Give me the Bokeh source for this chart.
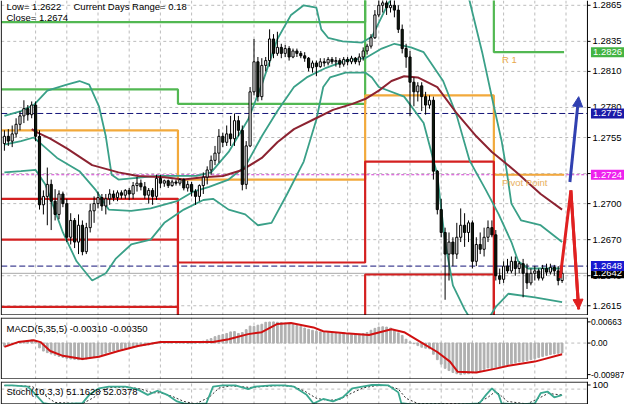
from bokeh.plotting import figure
from bokeh.models import Range1d, FixedTicker, Label, Arrow, NormalHead, ColumnDataSource
from bokeh.layouts import column
from bokeh.embed import file_html
from bokeh.resources import INLINE

# ------------------------------------------------------------------ data
bars = list(range(144))
opens = [1.2750, 1.2756, 1.2752, 1.2758, 1.2766, 1.2773, 1.2779, 1.2774, 1.2782, 1.2756,
         1.2699, 1.2706, 1.2716, 1.2702, 1.2691, 1.2708, 1.2700, 1.2672, 1.2686, 1.2668,
         1.2682, 1.2660, 1.2680, 1.2694, 1.2700, 1.2705, 1.2698, 1.2704, 1.2708, 1.2705,
         1.2709, 1.2707, 1.2711, 1.2708, 1.2715, 1.2717, 1.2714, 1.2707, 1.2711, 1.2706,
         1.2721, 1.2717, 1.2719, 1.2715, 1.2718, 1.2717, 1.2720, 1.2713, 1.2716, 1.2710,
         1.2706, 1.2715, 1.2722, 1.2728, 1.2736, 1.2742, 1.2756, 1.2751, 1.2758, 1.2754,
         1.2769, 1.2761, 1.2716, 1.2748, 1.2793, 1.2818, 1.2789, 1.2815, 1.2819, 1.2837,
         1.2825, 1.2830, 1.2825, 1.2829, 1.2822, 1.2827, 1.2825, 1.2823, 1.2821, 1.2813,
         1.2817, 1.2814, 1.2818, 1.2817, 1.2820, 1.2818, 1.2819, 1.2816, 1.2820, 1.2818,
         1.2821, 1.2818, 1.2822, 1.2827, 1.2831, 1.2838, 1.2857, 1.2865, 1.2867, 1.2863,
         1.2865, 1.2861, 1.2845, 1.2829, 1.2822, 1.2801, 1.2793, 1.2798, 1.2789, 1.2782,
         1.2786, 1.2727, 1.2695, 1.2676, 1.2658, 1.2668, 1.2658, 1.2672, 1.2682, 1.2676,
         1.2684, 1.2652, 1.2666, 1.2662, 1.2672, 1.2680, 1.2674, 1.2640, 1.2637, 1.2648,
         1.2644, 1.2652, 1.2646, 1.2650, 1.2642, 1.2634, 1.2642, 1.2644, 1.2638, 1.2646,
         1.2643, 1.2647, 1.2644, 1.2636]
highs = [1.2761, 1.2762, 1.2765, 1.2771, 1.2777, 1.2786, 1.2782, 1.2785, 1.2785, 1.2761,
         1.2711, 1.2730, 1.2720, 1.2712, 1.2711, 1.2710, 1.2704, 1.2692, 1.2688, 1.2691,
         1.2686, 1.2684, 1.2700, 1.2706, 1.2710, 1.2708, 1.2708, 1.2712, 1.2711, 1.2711,
         1.2711, 1.2712, 1.2713, 1.2718, 1.2722, 1.2720, 1.2718, 1.2713, 1.2713, 1.2724,
         1.2724, 1.2720, 1.2720, 1.2720, 1.2720, 1.2721, 1.2721, 1.2719, 1.2718, 1.2712,
         1.2716, 1.2726, 1.2731, 1.2740, 1.2748, 1.2762, 1.2759, 1.2765, 1.2773, 1.2775,
         1.2773, 1.2765, 1.2752, 1.2797, 1.2837, 1.2822, 1.2821, 1.2822, 1.2845, 1.2841,
         1.2843, 1.2833, 1.2832, 1.2831, 1.2829, 1.2829, 1.2827, 1.2826, 1.2822, 1.2819,
         1.2819, 1.2821, 1.2821, 1.2822, 1.2822, 1.2822, 1.2821, 1.2822, 1.2822, 1.2823,
         1.2822, 1.2825, 1.2830, 1.2833, 1.2841, 1.2861, 1.2873, 1.2874, 1.2876, 1.2872,
         1.2870, 1.2865, 1.2849, 1.2833, 1.2827, 1.2805, 1.2801, 1.2801, 1.2793, 1.2790,
         1.2789, 1.2728, 1.2704, 1.2680, 1.2676, 1.2672, 1.2684, 1.2696, 1.2692, 1.2686,
         1.2686, 1.2672, 1.2676, 1.2680, 1.2686, 1.2686, 1.2678, 1.2646, 1.2652, 1.2654,
         1.2656, 1.2656, 1.2652, 1.2654, 1.2650, 1.2646, 1.2648, 1.2646, 1.2649, 1.2650,
         1.2650, 1.2649, 1.2648, 1.2648]
lows = [1.2744, 1.2748, 1.2747, 1.2755, 1.2761, 1.2767, 1.2769, 1.2771, 1.2752, 1.2695,
        1.2691, 1.2682, 1.2678, 1.2686, 1.2687, 1.2697, 1.2668, 1.2666, 1.2663, 1.2658,
        1.2657, 1.2658, 1.2676, 1.2684, 1.2696, 1.2694, 1.2691, 1.2699, 1.2702, 1.2702,
        1.2704, 1.2704, 1.2703, 1.2704, 1.2710, 1.2711, 1.2704, 1.2700, 1.2699, 1.2703,
        1.2713, 1.2714, 1.2713, 1.2714, 1.2715, 1.2715, 1.2711, 1.2710, 1.2706, 1.2699,
        1.2702, 1.2708, 1.2716, 1.2724, 1.2732, 1.2734, 1.2747, 1.2748, 1.2748, 1.2748,
        1.2756, 1.2711, 1.2712, 1.2747, 1.2790, 1.2785, 1.2786, 1.2810, 1.2814, 1.2821,
        1.2823, 1.2821, 1.2822, 1.2819, 1.2821, 1.2822, 1.2821, 1.2818, 1.2810, 1.2809,
        1.2806, 1.2813, 1.2814, 1.2815, 1.2816, 1.2814, 1.2813, 1.2814, 1.2815, 1.2816,
        1.2816, 1.2815, 1.2819, 1.2824, 1.2829, 1.2837, 1.2855, 1.2859, 1.2857, 1.2859,
        1.2855, 1.2842, 1.2825, 1.2813, 1.2773, 1.2781, 1.2785, 1.2777, 1.2774, 1.2779,
        1.2720, 1.2691, 1.2672, 1.2620, 1.2636, 1.2648, 1.2654, 1.2668, 1.2664, 1.2668,
        1.2646, 1.2648, 1.2658, 1.2656, 1.2668, 1.2672, 1.2636, 1.2633, 1.2634, 1.2642,
        1.2642, 1.2640, 1.2642, 1.2622, 1.2629, 1.2632, 1.2636, 1.2636, 1.2636, 1.2640,
        1.2641, 1.2640, 1.2632, 1.2634]
closes = [1.2756, 1.2752, 1.2758, 1.2766, 1.2773, 1.2779, 1.2774, 1.2782, 1.2756, 1.2699,
          1.2706, 1.2716, 1.2702, 1.2691, 1.2708, 1.2700, 1.2672, 1.2686, 1.2668, 1.2682,
          1.2660, 1.2680, 1.2694, 1.2700, 1.2705, 1.2698, 1.2704, 1.2708, 1.2705, 1.2709,
          1.2707, 1.2711, 1.2708, 1.2715, 1.2717, 1.2714, 1.2707, 1.2711, 1.2706, 1.2721,
          1.2717, 1.2719, 1.2715, 1.2718, 1.2717, 1.2720, 1.2713, 1.2716, 1.2710, 1.2706,
          1.2715, 1.2722, 1.2728, 1.2736, 1.2742, 1.2756, 1.2751, 1.2758, 1.2754, 1.2769,
          1.2761, 1.2716, 1.2748, 1.2793, 1.2818, 1.2789, 1.2815, 1.2819, 1.2837, 1.2825,
          1.2830, 1.2825, 1.2829, 1.2822, 1.2827, 1.2825, 1.2823, 1.2821, 1.2813, 1.2817,
          1.2814, 1.2818, 1.2817, 1.2820, 1.2818, 1.2819, 1.2816, 1.2820, 1.2818, 1.2821,
          1.2818, 1.2822, 1.2827, 1.2831, 1.2838, 1.2857, 1.2865, 1.2867, 1.2863, 1.2865,
          1.2861, 1.2845, 1.2829, 1.2822, 1.2801, 1.2793, 1.2798, 1.2789, 1.2782, 1.2786,
          1.2727, 1.2695, 1.2676, 1.2658, 1.2668, 1.2658, 1.2672, 1.2682, 1.2676, 1.2684,
          1.2652, 1.2666, 1.2662, 1.2672, 1.2680, 1.2674, 1.2640, 1.2637, 1.2648, 1.2644,
          1.2652, 1.2646, 1.2650, 1.2642, 1.2634, 1.2642, 1.2644, 1.2638, 1.2646, 1.2643,
          1.2647, 1.2644, 1.2636, 1.2642]

# Bollinger bands (upper / middle / lower) read at bar positions
ub_x = [0, 4.25, 7.5, 11, 16, 19.25, 21.75, 24.25, 26, 27.5, 29.25, 39.25, 49.25, 53, 57.5,
        62.5, 66, 70, 73.5, 76.75, 80, 81.25, 83, 86.75, 91.75, 94.25, 98.5, 109, 119.25,
        122.5, 125.5, 127.5, 128.75, 130, 132.5, 137.5, 143]
ub_y = [1.2773, 1.2777, 1.2782, 1.2794, 1.2799, 1.2802, 1.2799, 1.2781, 1.2756, 1.2724,
        1.2720, 1.2723, 1.2723, 1.2726, 1.2743, 1.2770, 1.2799, 1.2837, 1.2857, 1.2865,
        1.2863, 1.2845, 1.2838, 1.2835, 1.2834, 1.2839, 1.2867, 1.2917, 1.2869, 1.2826,
        1.2781, 1.2752, 1.2728, 1.2700, 1.2686, 1.2682, 1.2668]
mb_x = [0, 4.25, 7.5, 10, 13.5, 19.25, 23.5, 26.75, 32.5, 37.5, 44.25, 48.5, 52.5, 57.5,
        61.75, 66, 70, 74.25, 77.5, 82.5, 87.5, 92.5, 96.75, 100, 104.25, 107.5, 112.5, 116,
        119.25, 123.5, 126.75, 130, 131.75, 134.25, 143]
mb_y = [1.2749, 1.2752, 1.2755, 1.2748, 1.2738, 1.2727, 1.2711, 1.2695, 1.2694, 1.2696,
        1.2702, 1.2710, 1.2714, 1.2720, 1.2731, 1.2756, 1.2777, 1.2797, 1.2805, 1.2813,
        1.2819, 1.2821, 1.2829, 1.2833, 1.2830, 1.2826, 1.2802, 1.2773, 1.2736, 1.2711,
        1.2691, 1.2668, 1.2652, 1.2646, 1.2646]
lb_x = [0, 4.25, 8, 10.5, 15, 18.5, 22.5, 26, 28.5, 32.5, 37.5, 41, 46, 51, 53.5, 57.5,
        61.75, 65, 68.5, 72.5, 76.75, 80, 81.75, 83.5, 87.5, 92.5, 94.25, 96, 102.5, 107.5,
        111, 113, 115, 118, 121.75, 126, 129.25, 136, 143]
lb_y = [1.2726, 1.2727, 1.2728, 1.2716, 1.2676, 1.2652, 1.2636, 1.2642, 1.2654, 1.2666,
        1.2670, 1.2684, 1.2695, 1.2703, 1.2704, 1.2695, 1.2691, 1.2682, 1.2684, 1.2708,
        1.2735, 1.2770, 1.2797, 1.2805, 1.2809, 1.2809, 1.2805, 1.2797, 1.2789, 1.2767,
        1.2724, 1.2668, 1.2632, 1.2612, 1.2592, 1.2614, 1.2625, 1.2622, 1.2618]

# moving average (brown)
ma_x = [7, 8.5, 11.75, 16, 22.5, 29.25, 34.25, 41, 46, 51, 56, 61, 66, 70, 74.25, 79.25,
        84.25, 89.25, 92.5, 96, 99.25, 102.5, 106, 111, 116, 121, 125, 131, 137.5, 143]
ma_y = [1.2762, 1.2759, 1.2754, 1.2746, 1.2732, 1.2726, 1.2723, 1.2722, 1.2720, 1.2722,
        1.2723, 1.2728, 1.2738, 1.2751, 1.2762, 1.2770, 1.2778, 1.2783, 1.2787, 1.2794,
        1.2802, 1.2806, 1.2805, 1.2797, 1.2775, 1.2756, 1.2743, 1.2727, 1.2708, 1.2695]

# daily pivot levels, one value per day segment
day_edges = [-0.75, 44.5, 92.5, 125.5, 143.5]
r2 = [1.2851, 1.2851, 1.2905, 1.2880]
r1 = [1.2795, 1.2783, 1.2890, 1.2826]
pp = [1.2761, 1.2720, 1.2790, 1.2724]
s1 = [1.2704, 1.2651, 1.2735, 1.2590]
s2 = [1.2670, 1.2585, 1.2641, 1.2540]
s3 = [1.2614, 1.2520, 1.2560, 1.2480]

# horizontal price lines and right-hand price boxes
line_1775 = 1.2775
line_1648 = 1.2648
line_pivot = 1.2724
bid = 1.2642
box_prices = [1.2826, 1.2775, 1.2724, 1.2642, 1.2648]
box_colors = ["#43b443", "#1a1aa8", "#ee22ee", "#000000", "#1a1ad0"]
price_ticks = [1.2615, 1.2640, 1.2670, 1.2700, 1.2725, 1.2755, 1.2780, 1.2810, 1.2835, 1.2865]
grid_bars = [8, 16, 24, 32, 40, 48, 56, 64, 72, 80, 88, 96, 104, 112, 120, 128, 136, 144]

# hand-drawn forecast arrows
blue_fx = [145.0, 147.25]
blue_fy = [1.2718, 1.2789]
red_fx = [142.5, 145.25, 147.25]
red_fy = [1.2638, 1.2711, 1.2612]

# MACD(5,35,5): main histogram per bar, signal line
macd_main = [-0.0010, -0.0008, -0.0005, -0.0002, 0.0002, 0.0005, 0.0008, 0.0010, 0.0005,
             -0.0015, -0.0025, -0.0030, -0.0034, -0.0038, -0.0042, -0.0045, -0.0048, -0.0050,
             -0.0051, -0.0052, -0.0052, -0.0050, -0.0047, -0.0044, -0.0040,
             -0.0036, -0.0032, -0.0028, -0.0025, -0.0022, -0.0019, -0.0016, -0.0014, -0.0011,
             -0.0009, -0.0008, -0.0007, -0.0006, -0.0003, -0.0001,
             0.0000, 0.0001, 0.0001, 0.0002, 0.0002, 0.0001, 0.0001, -0.0001, -0.0002, 0.0000,
             0.0003, 0.0006, 0.0010, 0.0014,
             0.0020, 0.0024, 0.0027, 0.0030, 0.0035, 0.0036, 0.0030, 0.0033, 0.0042, 0.0053,
             0.0052, 0.0056, 0.0059, 0.0065, 0.0066, 0.00663,
             0.0065, 0.0064, 0.0062, 0.0060, 0.0058, 0.0055, 0.0052, 0.0047, 0.0043, 0.0040,
             0.0037, 0.0035, 0.0033, 0.0032, 0.0031, 0.0030, 0.0029, 0.0029, 0.0028, 0.0027,
             0.0027, 0.0028, 0.0030, 0.0033, 0.0040, 0.0046, 0.0050, 0.0051, 0.0050, 0.0047,
             0.0041, 0.0032, 0.0024, 0.0012, 0.0004, -0.0002, -0.0008, -0.0013, -0.0016, -0.0018,
             -0.0035, -0.0052, -0.0066, -0.0079, -0.0086, -0.0092, -0.0096, -0.00987, -0.0097, -0.0096,
             -0.0093, -0.0090, -0.0086, -0.0082, -0.0078, -0.0079, -0.0078, -0.0074, -0.0071, -0.0068,
             -0.0065, -0.0062, -0.0059, -0.0058, -0.0055, -0.0052, -0.0049, -0.0045, -0.0042, -0.0039,
             -0.0036, -0.0034, -0.0032, -0.0031]
sig_x = [0, 3.5, 7.5, 9.25, 11.75, 15, 20, 24.25, 29.25, 34.25, 40, 47.5, 53.5, 57.5, 62.5,
         66, 70, 73.5, 79.25, 81.75, 87.5, 93.5, 99.25, 102.5, 106.75, 111, 114.25, 116.25,
         121, 126, 129.25, 136, 143]
sig_y = [-0.0012, 0.0003, 0.0009, 0.0003, -0.0025, -0.0040, -0.0050, -0.0043, -0.0025,
         -0.0009, 0.0003, 0.0003, 0.0003, 0.0012, 0.0028, 0.0034, 0.0060, 0.0063, 0.0049,
         0.0037, 0.0031, 0.0025, 0.0043, 0.0034, 0.0003, -0.0028, -0.0058, -0.0090, -0.0092,
         -0.0080, -0.0071, -0.0058, -0.0035]
macd_ticks = [0.00663, 0.0, -0.00987]
macd_tick_labels = ["0.00663", "0.00", "-0.00987"]

# Stochastic(10,3,3)
sk_x = [0, 2, 6, 7.5, 10, 12, 16, 20, 21.75, 24.25, 26.75, 31, 34, 36.75, 39.25, 41.75,
        44.25, 46, 48, 51.75, 53.5, 56, 59.25, 62.5, 64.25, 68.5, 71.75, 74.25, 77.5, 79.25,
        81.75, 84.25, 86.75, 89.25, 91.75, 94.25, 96, 98.5, 101, 101.75, 105, 110, 115,
        121.75, 123.5, 125, 126.75, 127.5, 132, 136, 137.5, 139.25, 141, 142.5, 143]
sk_y = [98, 98, 92, 64, 12, 5, 8, 12, 52, 84, 92, 92, 80, 52, 72, 52, 20, 10, 6, 10,
        92, 98, 98, 80, 92, 98, 98, 92, 52, 10, 32, 20, 40, 84, 92, 100, 100, 98, 64, 12,
        4, 6, 3, 10, 52, 84, 52, 10, 5, 10, 60, 68, 40, 48, 51.16]
sd_x = [0, 3, 7, 9, 11, 13, 20, 23, 25, 27, 32, 35, 38, 40, 43, 46, 49, 52.5, 55, 58, 63,
        66, 70, 74, 77, 80, 83, 86, 89, 92, 95, 98, 101, 103, 106, 121, 124, 126, 127.5,
        129, 134, 137, 139.5, 141, 143]
sd_y = [97, 97, 93, 75, 40, 15, 9, 40, 75, 88, 90, 80, 62, 62, 45, 20, 8, 40, 85, 96, 88,
        92, 97, 94, 70, 35, 25, 30, 60, 86, 96, 98, 80, 35, 10, 8, 40, 70, 45, 20, 8, 35,
        60, 55, 52.04]
sto_ticks = [100]
sto_grid = [80]

assert len(opens) == len(highs) == len(lows) == len(closes) == len(macd_main) == 144

# ------------------------------------------------------------------ style
FONT = "Liberation Sans"
W = 624
XL, XR = -1.0, 159.0          # frame covers chart area + price scale area
BL, BR = -0.8, 149.5          # chart area borders (in bar units)
MAIN_H, MACD_H, STO_H = 315, 64, 25
TEAL = "#3aa088"
GRID = "#bcbcbc"


def base_fig(h, lo, hi, top):
    f = figure(width=W, height=h, x_range=Range1d(XL, XR), y_range=Range1d(lo, hi), title=None,
               x_axis_location=None, y_axis_location=None, toolbar_location=None,
               output_backend="svg", min_border_left=0, min_border_right=0,
               min_border_top=top, min_border_bottom=0)
    f.outline_line_color = None
    f.background_fill_color = "white"
    f.border_fill_color = "white"
    f.xgrid.visible = False
    f.ygrid.visible = False
    f.segment(x0=grid_bars, x1=grid_bars, y0=lo, y1=hi, line_color=GRID, line_dash="3 3",
              line_width=1)
    return f


def hgrid(f, levels):
    f.segment(x0=BL, x1=BR, y0=levels, y1=levels, line_color=GRID, line_dash="3 3", line_width=1)


def borders(f, lo, hi, h, top=True):
    e = (hi - lo) / h * 0.6
    f.line([BL, BL], [lo, hi], line_color="black", line_width=1)
    f.line([BR, BR], [lo, hi], line_color="black", line_width=1)
    f.line([BL, BR], [lo + e, lo + e], line_color="black", line_width=1)
    if top:
        f.line([BL, BR], [hi - e, hi - e], line_color="black", line_width=1)


def ticks(f, levels):
    f.segment(x0=BR, x1=BR + 0.8, y0=levels, y1=levels, line_color="black", line_width=1)


def txt(fig, x, y, text, color="black", size="9.5px", xu="screen", yu="screen",
        baseline="middle", **kw):
    fig.add_layout(Label(x=x, y=y, x_units=xu, y_units=yu, text=text, text_color=color,
                         text_font=FONT, text_font_size=size, text_baseline=baseline, **kw))


# ------------------------------------------------------------------ main panel
YLO, YHI = 1.26069, 1.2869
main = base_fig(MAIN_H, YLO, YHI, 0)
hgrid(main, price_ticks)

for y, col, dash in [(line_1775, "#15157a", "6 3"), (line_1648, "#15157a", "6 3"),
                     (line_pivot, "#d040d0", "3 2"), (bid, "#a8a8a8", "solid")]:
    main.line([BL, BR], [y, y], line_color=col, line_dash=dash, line_width=1)

for lv, col in [(r2, "#52b852"), (r1, "#52b852"), (pp, "#f2a93b"),
                (s1, "#d42020"), (s2, "#d42020"), (s3, "#d42020")]:
    xs, ys = [], []
    for d, v in enumerate(lv):
        xs += [day_edges[d], day_edges[d + 1]]
        ys += [v, v]
    main.line(xs, ys, line_color=col, line_width=2.2)

main.line(ub_x, ub_y, line_color=TEAL, line_width=1.8)
main.line(mb_x, mb_y, line_color=TEAL, line_width=1.8)
main.line(lb_x, lb_y, line_color=TEAL, line_width=1.8)
main.line(ma_x, ma_y, line_color="#8c2331", line_width=2)

src = ColumnDataSource(dict(
    x=bars, o=opens, h=highs, l=lows, c=closes,
    top=[max(a, b) for a, b in zip(opens, closes)],
    bot=[min(a, b) for a, b in zip(opens, closes)],
    fill=["white" if c >= o else "#0e1a0e" for o, c in zip(opens, closes)]))
main.segment(x0="x", y0="l", x1="x", y1="h", source=src, line_color="black", line_width=1)
main.vbar(x="x", width=0.55, top="top", bottom="bot", source=src, fill_color="fill",
          line_color="black", line_width=1)

# forecast arrows
main.line(red_fx, red_fy, line_color="#e02020", line_width=3)
main.add_layout(Arrow(end=NormalHead(size=10, fill_color="#e02020", line_color="#e02020"),
                      x_start=red_fx[-2], y_start=red_fy[-2], x_end=red_fx[-1], y_end=red_fy[-1],
                      line_color="#e02020", line_width=3))
main.add_layout(Arrow(end=NormalHead(size=10, fill_color="#3040b0", line_color="#3040b0"),
                      x_start=blue_fx[0], y_start=blue_fy[0], x_end=blue_fx[1], y_end=blue_fy[1],
                      line_color="#3040b0", line_width=3))

borders(main, YLO, YHI, MAIN_H, top=False)
ticks(main, price_ticks)
for v in price_ticks:
    txt(main, BR + 1.3, v, f"{v:.4f}", xu="data", yu="data")

txt(main, 127.6, r1[3], "R 1", color="#e8a848", xu="data", yu="data", baseline="top", y_offset=-2)
txt(main, 127.6, pp[3], "Pivot Point", color="#e8b060", xu="data", yu="data", baseline="top",
    y_offset=-2)

txt(main, 6, MAIN_H - 6, "Low= 1.2622")
txt(main, 73, MAIN_H - 6, "Current Days Range= 0.18")
txt(main, 6, MAIN_H - 17, "Close= 1.2674")

for v, colr in zip(box_prices, box_colors):
    txt(main, BR + 0.9, v, f"{v:.4f}", color="white", xu="data", yu="data",
        background_fill_color=colr, padding=2)

# ------------------------------------------------------------------ MACD panel
MLO, MHI = -0.0114, 0.0080
macd = base_fig(MACD_H, MLO, MHI, 2)
hgrid(macd, [0.0])
macd.vbar(x=bars, top=macd_main, bottom=0, width=0.45, color="#b0b0b0")
macd.line(sig_x, sig_y, line_color="#d01010", line_width=2)
borders(macd, MLO, MHI, MACD_H - 2)
ticks(macd, macd_ticks)
txt(macd, 6, MACD_H - 2 - 11, "MACD(5,35,5) -0.00310 -0.00350")
for v, t in zip(macd_ticks, macd_tick_labels):
    txt(macd, BR + 0.9, v, t, xu="data", yu="data", size="8.5px")

# ------------------------------------------------------------------ Stochastic panel
SLO, SHI = 5, 117
sto = base_fig(STO_H, SLO, SHI, 2)
hgrid(sto, sto_grid)
sto.line(sd_x, sd_y, line_color="#303030", line_width=1, line_dash="2 2")
sto.line(sk_x, sk_y, line_color="#3aa890", line_width=1.8)
borders(sto, SLO, SHI, STO_H - 2)
ticks(sto, sto_ticks)
txt(sto, 6, STO_H - 2 - 10, "Stoch(10,3,3) 51.1628 52.0378")
txt(sto, BR + 1.3, 100, "100", xu="data", yu="data")

layout = column(main, macd, sto, spacing=0)
open("out.html", "w").write(file_html(layout, INLINE))
